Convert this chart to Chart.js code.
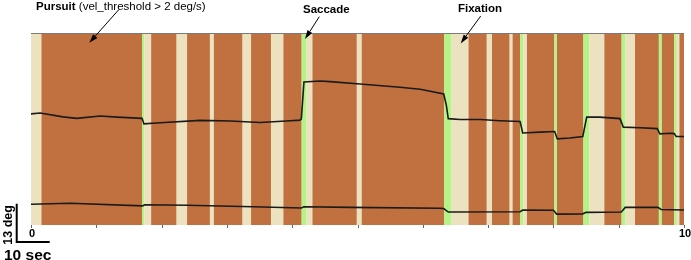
<!DOCTYPE html>
<html>
<head>
<meta charset="utf-8">
<script src="https://cdn.jsdelivr.net/npm/chart.js@4.4.0/dist/chart.umd.min.js"></script>
<style>
html, body { margin: 0; padding: 0; background: #fff; }
</style>
</head>
<body>
<canvas id="c" width="691" height="260"></canvas>
<script>
// limites de segmentos (seg) y tipo: F = fijación, P = persecución, S = sacada
const segEdges = [0, 0.16, 1.70, 1.735, 1.84, 2.23, 2.39, 2.74, 2.80, 3.24, 3.37, 3.675, 3.865, 4.145, 4.22, 4.31, 4.99, 5.065, 6.33, 6.44, 6.70, 6.98, 7.06, 7.33, 7.375, 7.49, 7.54, 7.595, 8.015, 8.055, 8.46, 8.55, 8.78, 9.045, 9.105, 9.25, 9.615, 9.66, 9.85, 9.89, 9.93, 10];
const segTypes = ['F','P','S','F','P','F','P','F','P','F','P','F','P','S','F','P','F','P','S','F','P','F','P','F','P','S','F','P','S','P','S','F','P','S','F','P','S','P','S','F','P'];

// traza superior (posición horizontal, deg)
const hTime = [0, 0.14, 0.49, 0.70, 1.06, 1.32, 1.70, 1.73, 1.98, 2.59, 3.05, 3.51, 3.97, 4.12, 4.14, 4.18, 4.43, 4.58, 5.04, 5.65, 5.96, 6.32, 6.36, 6.39, 6.57, 6.88, 7.18, 7.49, 7.53, 7.79, 8.02, 8.06, 8.25, 8.45, 8.51, 8.71, 9.02, 9.07, 9.33, 9.59, 9.63, 9.79, 9.85, 9.88, 10];
const hDeg  = [37.8, 38.1, 36.8, 36.3, 37.1, 36.7, 36.3, 34.4, 34.8, 35.6, 35.4, 34.9, 35.5, 35.7, 36.1, 48.7, 49.0, 48.8, 48.0, 46.9, 46.2, 44.6, 40.8, 36.2, 35.9, 35.9, 35.5, 35.2, 31.3, 31.6, 31.8, 29.3, 29.6, 30.1, 36.7, 36.7, 36.2, 33.3, 33.1, 32.8, 31.0, 31.2, 31.1, 30.1, 30.1];

// traza inferior (posición vertical, deg)
const vTime = [0, 0.60, 1.71, 1.74, 2.39, 3.40, 4.14, 4.18, 4.89, 6.26, 6.32, 6.39, 7.49, 7.53, 8.00, 8.05, 8.45, 8.50, 9.04, 9.10, 9.60, 9.65, 10];
const vDeg  = [7.05, 7.4, 6.5, 6.9, 6.7, 6.2, 5.8, 6.2, 6.0, 5.7, 5.6, 4.4, 4.5, 5.1, 5.0, 3.7, 3.8, 4.3, 4.4, 6.0, 6.0, 5.3, 5.1];

const xTicks = [0, 1, 2, 3, 4, 5, 6, 7, 8, 9, 10];
const xTickLabels = { 0: '0', 10: '10' };

// anotaciones: punta de la flecha en unidades de datos
const annoLabels = ['Pursuit', 'Saccade', 'Fixation'];
const annoNotes  = [' (vel_threshold > 2 deg/s)', '', ''];
const annoTipT   = [0.893, 4.196, 6.58];
const annoTipDeg = [62.0, 63.3, 61.8];

const segColors = { P: '#c1703f', F: '#ede2bf', S: '#b4f487' };
const FONT = 'Arial, "Liberation Sans", sans-serif';

const toPoints = (ts, ys) => ts.map((t, i) => ({ x: t, y: ys[i] }));

// Dibuja los segmentos de fondo
const segmentsPlugin = {
    id: 'segments',
    beforeDatasetsDraw(chart) {
        const { ctx, chartArea, scales } = chart;
        ctx.save();
        for (let i = 0; i < segTypes.length; i++) {
            const x0 = scales.x.getPixelForValue(segEdges[i]);
            const x1 = scales.x.getPixelForValue(segEdges[i + 1]);
            ctx.fillStyle = segColors[segTypes[i]];
            ctx.fillRect(x0, chartArea.top, x1 - x0, chartArea.bottom - chartArea.top);
        }
        ctx.restore();
    }
};

// Marco, ticks, etiquetas, anotaciones y barra de escala
const decorPlugin = {
    id: 'decor',
    afterDraw(chart) {
        const { ctx, chartArea, scales } = chart;
        const xs = scales.x, ys = scales.y;
        ctx.save();

        // linea superior
        ctx.strokeStyle = '#7a7a7a';
        ctx.lineWidth = 1;
        ctx.beginPath();
        ctx.moveTo(chartArea.left, chartArea.top - 0.5);
        ctx.lineTo(chartArea.right, chartArea.top - 0.5);
        ctx.stroke();

        // ticks inferiores
        ctx.strokeStyle = '#666';
        xTicks.forEach(t => {
            const px = Math.round(xs.getPixelForValue(t)) + 0.5;
            ctx.beginPath();
            ctx.moveTo(px, chartArea.bottom);
            ctx.lineTo(px, chartArea.bottom + 3);
            ctx.stroke();
        });

        ctx.fillStyle = '#000';
        ctx.font = 'bold 11px ' + FONT;
        ctx.textAlign = 'center';
        ctx.textBaseline = 'alphabetic';
        Object.keys(xTickLabels).forEach(k => {
            ctx.fillText(xTickLabels[k], xs.getPixelForValue(Number(k)) + 1, chartArea.bottom + 12);
        });

        // anotaciones
        const layout = [
            { tx: 36, ty: 10, align: 'left', dx: 29.7, dy: -33.4 },
            { tx: 326.3, ty: 12.5, align: 'center', dx: 14.3, dy: -22.3 },
            { tx: 480, ty: 11.7, align: 'center', dx: 20, dy: -27.3 }
        ];
        annoLabels.forEach((label, i) => {
            const L = layout[i];
            ctx.textAlign = 'left';
            ctx.font = 'bold 11.5px ' + FONT;
            const wb = ctx.measureText(label).width;
            ctx.font = '11.5px ' + FONT;
            const wn = ctx.measureText(annoNotes[i]).width;
            let x = L.align === 'center' ? L.tx - (wb + wn) / 2 : L.tx;
            ctx.font = 'bold 11.5px ' + FONT;
            ctx.fillText(label, x, L.ty);
            ctx.font = '11.5px ' + FONT;
            ctx.fillText(annoNotes[i], x + wb, L.ty);

            const tipX = xs.getPixelForValue(annoTipT[i]);
            const tipY = ys.getPixelForValue(annoTipDeg[i]);
            const tailX = tipX + L.dx, tailY = tipY + L.dy;
            const ang = Math.atan2(tipY - tailY, tipX - tailX);
            const hl = 9, hw = 2.8;
            const bx = tipX - hl * Math.cos(ang), by = tipY - hl * Math.sin(ang);
            ctx.strokeStyle = '#000';
            ctx.lineWidth = 1;
            ctx.beginPath();
            ctx.moveTo(tailX, tailY);
            ctx.lineTo(bx, by);
            ctx.stroke();
            ctx.beginPath();
            ctx.moveTo(tipX, tipY);
            ctx.lineTo(bx + hw * Math.sin(ang), by - hw * Math.cos(ang));
            ctx.lineTo(bx - hw * Math.sin(ang), by + hw * Math.cos(ang));
            ctx.closePath();
            ctx.fillStyle = '#000';
            ctx.fill();
        });

        // barra de escala
        const barH = ys.getPixelForValue(0) - ys.getPixelForValue(13);
        const bx0 = 16.7, by0 = 242;
        ctx.strokeStyle = '#000';
        ctx.lineWidth = 2;
        ctx.beginPath();
        ctx.moveTo(bx0, by0 - barH);
        ctx.lineTo(bx0, by0);
        ctx.lineTo(bx0 + 33, by0);
        ctx.stroke();

        ctx.fillStyle = '#000';
        ctx.font = 'bold 12.5px ' + FONT;
        ctx.save();
        ctx.translate(11.8, by0 - barH / 2 + 2);
        ctx.rotate(-Math.PI / 2);
        ctx.textAlign = 'center';
        ctx.fillText('13 deg', 0, 0);
        ctx.restore();

        ctx.font = 'bold 15.5px ' + FONT;
        ctx.textAlign = 'left';
        ctx.fillText('10 sec', 4, 260);

        ctx.restore();
    }
};

new Chart(document.getElementById('c'), {
    type: 'scatter',
    data: {
        datasets: [
            {
                label: 'H',
                data: toPoints(hTime, hDeg),
                showLine: true,
                borderColor: '#1a1a1a',
                borderWidth: 1.6,
                pointRadius: 0,
                tension: 0
            },
            {
                label: 'V',
                data: toPoints(vTime, vDeg),
                showLine: true,
                borderColor: '#1a1a1a',
                borderWidth: 1.6,
                pointRadius: 0,
                tension: 0
            }
        ]
    },
    options: {
        responsive: false,
        animation: false,
        layout: { padding: { left: 31, right: 7, top: 34, bottom: 35 } },
        scales: {
            x: { type: 'linear', min: 0, max: 10, display: false },
            y: { type: 'linear', min: 0, max: 65, display: false }
        },
        plugins: {
            legend: { display: false },
            tooltip: { enabled: false }
        }
    },
    plugins: [segmentsPlugin, decorPlugin]
});
</script>
</body>
</html>
